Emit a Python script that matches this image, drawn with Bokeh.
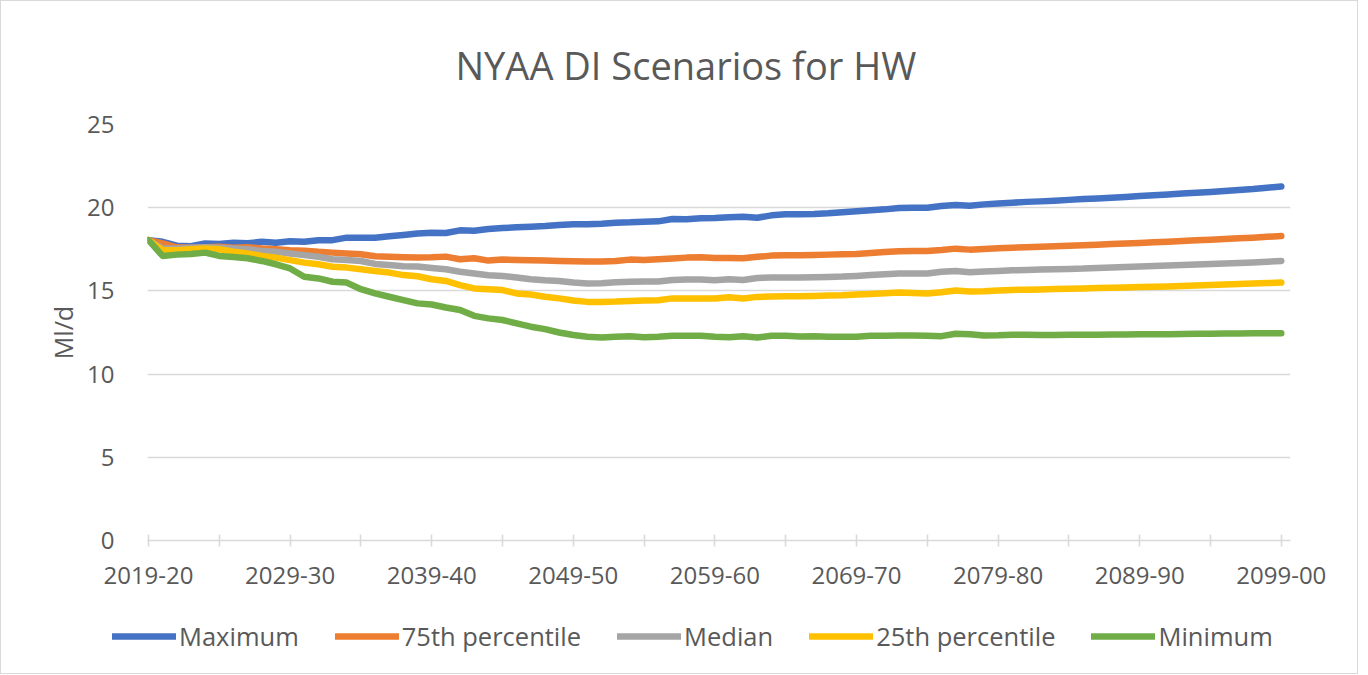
from bokeh.plotting import figure
from bokeh.layouts import column
from bokeh.models import (Range1d, FixedTicker, Legend, LegendItem, Title,
                          ColumnDataSource)
from bokeh.embed import file_html
from bokeh.resources import INLINE

# ---------------- data ----------------
periods = [f"{y}-{(y + 1) % 100:02d}" for y in range(2019, 2100)]

maximum = [18.05, 17.95, 17.72, 17.68, 17.85, 17.82, 17.90, 17.86, 17.95, 17.90,
           17.98, 17.96, 18.05, 18.05, 18.20, 18.20, 18.20, 18.28, 18.36, 18.45,
           18.50, 18.48, 18.64, 18.62, 18.72, 18.78, 18.82, 18.86, 18.90, 18.96,
           19.00, 19.00, 19.04, 19.10, 19.12, 19.16, 19.18, 19.32, 19.30, 19.36,
           19.38, 19.42, 19.46, 19.40, 19.54, 19.60, 19.60, 19.62, 19.66, 19.72,
           19.78, 19.84, 19.90, 19.98, 20.00, 20.00, 20.10, 20.16, 20.12, 20.20,
           20.25, 20.30, 20.35, 20.38, 20.42, 20.47, 20.52, 20.56, 20.60, 20.65,
           20.70, 20.75, 20.80, 20.85, 20.90, 20.95, 21.00, 21.06, 21.12, 21.20,
           21.28]

p75 = [18.05, 17.85, 17.62, 17.60, 17.62, 17.65, 17.60, 17.62, 17.55, 17.50,
       17.45, 17.42, 17.35, 17.30, 17.25, 17.20, 17.08, 17.05, 17.02, 17.00,
       17.02, 17.06, 16.90, 16.96, 16.82, 16.88, 16.86, 16.84, 16.82, 16.80,
       16.78, 16.76, 16.76, 16.80, 16.88, 16.85, 16.90, 16.95, 17.00, 17.02,
       16.98, 16.98, 16.96, 17.05, 17.12, 17.14, 17.14, 17.16, 17.18, 17.20,
       17.22, 17.28, 17.34, 17.38, 17.40, 17.40, 17.46, 17.54, 17.48, 17.52,
       17.56, 17.60, 17.62, 17.65, 17.68, 17.72, 17.75, 17.78, 17.82, 17.85,
       17.88, 17.92, 17.96, 18.00, 18.04, 18.08, 18.12, 18.16, 18.20, 18.25,
       18.30]

median = [18.05, 17.55, 17.55, 17.60, 17.62, 17.60, 17.55, 17.50, 17.40, 17.35,
          17.25, 17.15, 17.05, 16.90, 16.85, 16.80, 16.62, 16.55, 16.48, 16.46,
          16.38, 16.30, 16.15, 16.05, 15.94, 15.90, 15.80, 15.70, 15.64, 15.60,
          15.50, 15.44, 15.46, 15.52, 15.55, 15.56, 15.56, 15.66, 15.68, 15.68,
          15.64, 15.70, 15.66, 15.78, 15.80, 15.80, 15.80, 15.82, 15.84, 15.86,
          15.90, 15.95, 16.00, 16.04, 16.04, 16.04, 16.15, 16.20, 16.12, 16.16,
          16.20, 16.24, 16.26, 16.28, 16.30, 16.32, 16.34, 16.38, 16.40, 16.43,
          16.46, 16.49, 16.52, 16.55, 16.58, 16.61, 16.64, 16.67, 16.71, 16.75,
          16.80]

p25 = [18.05, 17.45, 17.45, 17.50, 17.55, 17.50, 17.35, 17.25, 17.10, 17.00,
       16.85, 16.70, 16.60, 16.45, 16.40, 16.30, 16.20, 16.10, 15.95, 15.88,
       15.70, 15.60, 15.35, 15.15, 15.10, 15.05, 14.85, 14.78, 14.65, 14.55,
       14.42, 14.34, 14.34, 14.36, 14.40, 14.42, 14.44, 14.55, 14.55, 14.54,
       14.54, 14.62, 14.54, 14.64, 14.66, 14.68, 14.68, 14.70, 14.72, 14.74,
       14.78, 14.82, 14.86, 14.90, 14.88, 14.84, 14.92, 15.02, 14.96, 14.98,
       15.02, 15.06, 15.07, 15.09, 15.11, 15.13, 15.15, 15.17, 15.19, 15.21,
       15.23, 15.25, 15.27, 15.30, 15.32, 15.35, 15.38, 15.41, 15.44, 15.47,
       15.50]

minimum = [18.05, 17.10, 17.18, 17.22, 17.30, 17.10, 17.04, 16.96, 16.80, 16.60,
           16.35, 15.85, 15.75, 15.55, 15.50, 15.10, 14.85, 14.65, 14.45, 14.25,
           14.18, 14.00, 13.85, 13.50, 13.35, 13.25, 13.05, 12.85, 12.70, 12.50,
           12.35, 12.25, 12.20, 12.25, 12.28, 12.22, 12.25, 12.30, 12.30, 12.30,
           12.24, 12.22, 12.28, 12.20, 12.30, 12.30, 12.26, 12.27, 12.25, 12.24,
           12.25, 12.30, 12.30, 12.32, 12.32, 12.30, 12.28, 12.42, 12.40, 12.32,
           12.33, 12.36, 12.36, 12.35, 12.35, 12.36, 12.37, 12.37, 12.38, 12.38,
           12.39, 12.40, 12.40, 12.41, 12.42, 12.43, 12.44, 12.44, 12.45, 12.45,
           12.46]

series_names = ["Maximum", "75th percentile", "Median", "25th percentile", "Minimum"]
series_values = [maximum, p75, median, p25, minimum]
series_colors = ["#4472C4", "#ED7D31", "#A5A5A5", "#FFC000", "#70AD47"]

title_text = "NYAA DI Scenarios for HW"
y_label = "Ml/d"
y_ticks = [0, 5, 10, 15, 20, 25]

# ---------------- main figure ----------------
FONT = "Open Sans"
TXT = "#595959"
GRID = "#D9D9D9"
LW = 6.5

idx = list(range(len(periods)))

p = figure(width=1356, height=600, output_backend="svg", toolbar_location=None,
           x_range=Range1d(-0.07, 80.65), y_range=Range1d(0, 25),
           min_border_left=146, min_border_right=67,
           min_border_top=123, min_border_bottom=61)
p.outline_line_color = None
p.background_fill_color = "white"
p.border_fill_color = "white"
p.frame_align = False

p.title = Title(text=title_text, align="left", offset=308, standoff=68,
                text_font=FONT, text_font_size="38px", text_font_style="normal",
                text_color=TXT)

p.xgrid.grid_line_color = None
p.ygrid.grid_line_color = GRID
p.ygrid.grid_line_width = 1.6
p.ygrid.ticker = FixedTicker(ticks=y_ticks)

p.yaxis.ticker = FixedTicker(ticks=y_ticks)
p.yaxis.axis_line_color = None
p.yaxis.major_tick_line_color = None
p.yaxis.minor_tick_line_color = None
p.yaxis.major_label_text_font = FONT
p.yaxis.major_label_text_font_size = "24px"
p.yaxis.major_label_text_color = TXT
p.yaxis.major_label_standoff = 27
p.yaxis.axis_label = y_label
p.yaxis.axis_label_text_font = FONT
p.yaxis.axis_label_text_font_size = "25px"
p.yaxis.axis_label_text_font_style = "normal"
p.yaxis.axis_label_text_color = TXT
p.yaxis.axis_label_standoff = 4

label_pos = list(range(0, len(periods), 10))
tick_minor = list(range(5, len(periods), 10))
p.xaxis.ticker = FixedTicker(ticks=label_pos, minor_ticks=tick_minor)
p.xaxis.major_label_overrides = {i: periods[i] for i in label_pos}
p.xaxis.axis_line_color = GRID
p.xaxis.axis_line_width = 1.6
p.xaxis.major_tick_line_color = GRID
p.xaxis.major_tick_line_width = 1.6
p.xaxis.minor_tick_line_color = GRID
p.xaxis.minor_tick_line_width = 1.6
p.xaxis.major_tick_in = 6
p.xaxis.major_tick_out = 6
p.xaxis.minor_tick_in = 6
p.xaxis.minor_tick_out = 6
p.xaxis.major_label_text_font = FONT
p.xaxis.major_label_text_font_size = "24px"
p.xaxis.major_label_text_color = TXT
p.xaxis.major_label_standoff = 20

sources = []
for name, vals, col in zip(series_names, series_values, series_colors):
    src = ColumnDataSource(dict(x=idx, y=vals))
    sources.append(src)
    p.line("x", "y", source=src, line_color=col, line_width=LW,
           line_cap="round", line_join="round")

# ---------------- legend strip ----------------
# same series, drawn outside this strip's visible range; only its legend shows
lg = figure(width=1356, height=72, output_backend="svg", toolbar_location=None,
            x_range=Range1d(0, 1), y_range=Range1d(100, 101),
            x_axis_type=None, y_axis_type=None,
            min_border_left=0, min_border_right=0,
            min_border_top=0, min_border_bottom=0)
lg.outline_line_color = None
lg.grid.visible = False
lg.background_fill_color = "white"
lg.border_fill_color = "white"
lg.frame_align = False

items = []
for name, src, col in zip(series_names, sources, series_colors):
    r = lg.line("x", "y", source=src, line_color=col, line_width=LW,
                line_cap="round", line_join="round")
    items.append(LegendItem(label=name, renderers=[r]))

legend = Legend(items=items, orientation="horizontal", location=(111, 20),
                glyph_width=64, glyph_height=20, label_standoff=3, spacing=36,
                padding=0, margin=0, border_line_color=None,
                background_fill_alpha=0,
                label_text_font=FONT, label_text_font_size="25.5px",
                label_text_color=TXT)
lg.add_layout(legend)

layout = column(p, lg, spacing=0)
layout.styles = {"border": "1px solid #D9D9D9"}

open("out.html", "w").write(file_html(layout, INLINE))
